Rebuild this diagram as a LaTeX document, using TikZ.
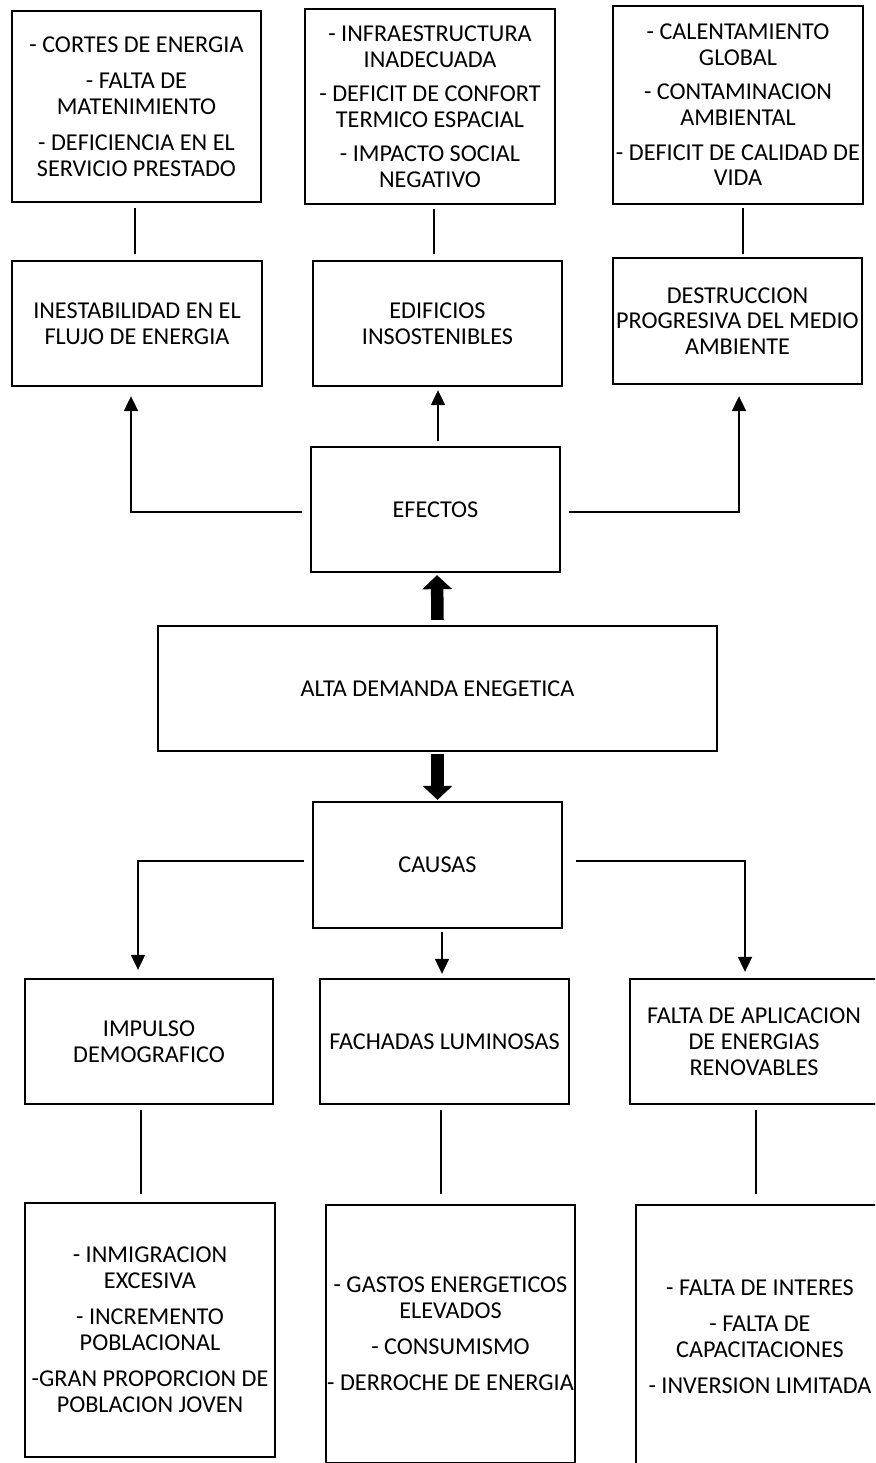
\documentclass[tikz,border=0pt]{standalone}
\usepackage{fontspec}
\setmainfont{Carlito}
\usetikzlibrary{arrows.meta,calc}
\begin{document}
\begin{tikzpicture}[x=1pt,y=-1pt,
  box/.style={draw,line width=2.3pt,inner sep=0pt,align=center,
    font=\fontsize{24.2pt}{25.8pt}\selectfont},
  ln/.style={line width=1.9pt},
  arr/.style={line width=1.9pt,-{Triangle[width=14pt,length=15pt]}},
  bigarr/.style={line width=12.5pt,-{Triangle[width=29pt,length=14pt]}}]
\useasboundingbox (0,0) rectangle (875,1463);
\fill[white] (0,0) rectangle (875,1463);
\clip (0,0) rectangle (875,1463);
% top boxes
\node[box,minimum width=249pt,minimum height=191pt] (t1) at (136.5,106.5)
  {- CORTES DE ENERGIA\\[10.5pt] - FALTA DE\\ MATENIMIENTO\\[10.5pt] - DEFICIENCIA EN EL\\ SERVICIO PRESTADO};
\node[box,minimum width=250pt,minimum height=195pt] (t2) at (430,106.5)
  {- INFRAESTRUCTURA\\ INADECUADA\\[8.5pt] - DEFICIT DE CONFORT\\ TERMICO ESPACIAL\\[8.5pt] - IMPACTO SOCIAL\\ NEGATIVO};
\node[box,minimum width=250pt,minimum height=198pt] (t3) at (738,105)
  {- CALENTAMIENTO\\ GLOBAL\\[8.5pt] - CONTAMINACION\\ AMBIENTAL\\[8.5pt] - DEFICIT DE CALIDAD DE\\ VIDA};
% effects
\node[box,minimum width=250pt,minimum height=125pt] (e1) at (137,323.5)
  {INESTABILIDAD EN EL\\ FLUJO DE ENERGIA};
\node[box,minimum width=249pt,minimum height=125pt] (e2) at (437.5,323.5)
  {EDIFICIOS\\ INSOSTENIBLES};
\node[box,minimum width=249pt,minimum height=126pt] (e3) at (737.5,321)
  {DESTRUCCION\\ PROGRESIVA DEL MEDIO\\ AMBIENTE};
\node[box,minimum width=249pt,minimum height=125pt] (ef) at (435.5,509.5) {EFECTOS};
\node[box,minimum width=559pt,minimum height=125pt] (alta) at (437.5,688.5) {ALTA DEMANDA ENEGETICA};
\node[box,minimum width=249pt,minimum height=126pt] (ca) at (437.5,865) {CAUSAS};
% causes
\node[box,minimum width=248pt,minimum height=125pt] (c1) at (149,1041.5)
  {IMPULSO\\ DEMOGRAFICO};
\node[box,minimum width=249pt,minimum height=125pt] (c2) at (444.5,1041.5)
  {FACHADAS LUMINOSAS};
\node[box,minimum width=248pt,minimum height=125pt] (c3) at (754,1041.5)
  {FALTA DE APLICACION\\ DE ENERGIAS\\ RENOVABLES};
\node[box,minimum width=250pt,minimum height=254pt] (b1) at (150,1330)
  {- INMIGRACION\\ EXCESIVA\\[10.5pt] - INCREMENTO\\ POBLACIONAL\\[10.5pt] -GRAN PROPORCION DE\\ POBLACION JOVEN};
\node[box,minimum width=249pt,minimum height=258pt] (b2) at (450.5,1334)
  {- GASTOS ENERGETICOS\\ ELEVADOS\\[10.5pt] - CONSUMISMO\\[10.5pt] - DERROCHE DE ENERGIA};
\node[box,minimum width=248pt,minimum height=264pt] (b3) at (760,1337)
  {- FALTA DE INTERES\\[10.5pt] - FALTA DE\\ CAPACITACIONES\\[10.5pt] - INVERSION LIMITADA};
% top connectors
\draw[ln] ([xshift=-1.5pt,yshift=-5pt]t1.south) -- ([xshift=-2pt,yshift=6pt]e1.north);
\draw[ln] ([xshift=4pt,yshift=-4pt]t2.south) -- ([xshift=-3.5pt,yshift=6pt]e2.north);
\draw[ln] ([xshift=5pt,yshift=-3pt]t3.south) -- ([xshift=5.5pt,yshift=3pt]e3.north);
% effect arrows
\draw[arr] ([xshift=-8pt,yshift=-2.5pt]ef.west) -| ([xshift=-6pt,yshift=-9pt]e1.south);
\draw[arr] ([xshift=2.5pt,yshift=5pt]ef.north) -- ([xshift=0.5pt,yshift=-3pt]e2.south);
\draw[arr] ([xshift=8pt,yshift=-2.5pt]ef.east) -| ([xshift=1.5pt,yshift=-11pt]e3.south);
% thick arrows
\draw[bigarr] ([xshift=0pt,yshift=5pt]alta.north) -- ([xshift=1.5pt,yshift=-2pt]ef.south);
\draw[bigarr] ([xshift=0pt,yshift=-2pt]alta.south) -- ([yshift=1pt]ca.north);
% cause arrows
\draw[arr] ([xshift=-8pt,yshift=4pt]ca.west) -| ([xshift=-11pt,yshift=8pt]c1.north);
\draw[arr] ([xshift=4.5pt,yshift=-3pt]ca.south) -- ([xshift=-2.5pt,yshift=4pt]c2.north);
\draw[arr] ([xshift=13pt,yshift=4pt]ca.east) -| ([xshift=-9pt,yshift=6pt]c3.north);
% bottom connectors
\draw[ln] ([xshift=-8pt,yshift=-5pt]c1.south) -- ([xshift=-9pt,yshift=8pt]b1.north);
\draw[ln] ([xshift=-3.5pt,yshift=-5pt]c2.south) -- ([xshift=-9.5pt,yshift=10pt]b2.north);
\draw[ln] ([xshift=2pt,yshift=-5pt]c3.south) -- ([xshift=-4pt,yshift=10pt]b3.north);
\end{tikzpicture}
\end{document}
